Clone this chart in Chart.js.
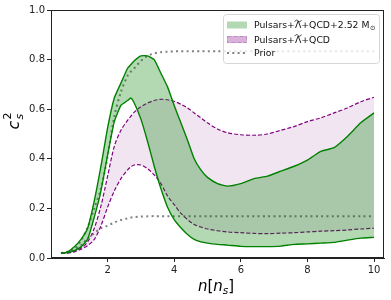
<!DOCTYPE html>
<html>
<head>
<meta charset="utf-8">
<script src="https://cdn.jsdelivr.net/npm/chart.js@4.4.1/dist/chart.umd.min.js"></script>
<style>
  html, body { margin: 0; padding: 0; background: #fff; }
  #wrap { width: 391px; height: 300px; }
</style>
</head>
<body>
<div id="wrap"><canvas id="bieudo" width="391" height="300"></canvas></div>
<script>
// density grid n [n_s]
const nDensity = [0.6, 0.8, 1.0, 1.2, 1.4, 1.6, 1.8, 2.0, 2.2, 2.4, 2.6, 2.7, 2.8, 3.0, 3.2, 3.4, 3.6, 3.8, 4.0,
  4.2, 4.4, 4.6, 4.8, 5.0, 5.3, 5.6, 6.0, 6.4, 6.8, 7.2, 7.6, 8.0, 8.4, 8.8, 9.2, 9.6, 10.0];

// Pulsars+Lambda+QCD+2.52 Msun band
const greenUpper = [0.02, 0.025, 0.045, 0.075, 0.12, 0.23, 0.37, 0.525, 0.645, 0.705, 0.765, 0.78, 0.795, 0.815, 0.815,
  0.80, 0.745, 0.69, 0.615, 0.545, 0.475, 0.40, 0.355, 0.325, 0.30, 0.29, 0.30, 0.32, 0.33, 0.35, 0.37, 0.395,
  0.43, 0.445, 0.49, 0.545, 0.585];
const greenLower = [0.02, 0.022, 0.03, 0.045, 0.075, 0.165, 0.27, 0.415, 0.55, 0.615, 0.635, 0.645, 0.625, 0.56, 0.47,
  0.37, 0.28, 0.205, 0.155, 0.122, 0.095, 0.075, 0.065, 0.06, 0.055, 0.052, 0.047, 0.046, 0.046, 0.048, 0.055,
  0.057, 0.06, 0.063, 0.072, 0.08, 0.083];

// Pulsars+Lambda+QCD band
const purpleUpper = [0.02, 0.022, 0.028, 0.04, 0.065, 0.12, 0.21, 0.33, 0.45, 0.515, 0.555, 0.572, 0.588, 0.61, 0.625,
  0.635, 0.64, 0.638, 0.632, 0.62, 0.605, 0.585, 0.565, 0.545, 0.52, 0.505, 0.497, 0.495, 0.50, 0.515, 0.53,
  0.55, 0.565, 0.585, 0.605, 0.63, 0.648];
const purpleLower = [0.02, 0.02, 0.025, 0.035, 0.05, 0.075, 0.13, 0.205, 0.27, 0.32, 0.355, 0.368, 0.375, 0.375, 0.36,
  0.335, 0.30, 0.25, 0.215, 0.18, 0.155, 0.135, 0.125, 0.117, 0.11, 0.105, 0.102, 0.099, 0.098, 0.10, 0.102,
  0.105, 0.108, 0.11, 0.113, 0.117, 0.12];

// prior band
const priorUpper = [0.02, 0.025, 0.035, 0.07, 0.125, 0.2, 0.28, 0.41, 0.57, 0.67, 0.735, 0.752, 0.765, 0.795, 0.815,
  0.825, 0.83, 0.832, 0.833, 0.834, 0.834, 0.834, 0.834, 0.834, 0.834, 0.834, 0.834, 0.834, 0.834, 0.834, 0.834,
  0.834, 0.834, 0.834, 0.834, 0.834, 0.834];
const priorLower = [0.02, 0.025, 0.035, 0.05, 0.08, 0.1, 0.12, 0.13, 0.143, 0.153, 0.16, 0.163, 0.165, 0.167, 0.168,
  0.169, 0.168, 0.168, 0.168, 0.168, 0.168, 0.168, 0.168, 0.168, 0.168, 0.168, 0.168, 0.168, 0.168, 0.168, 0.168,
  0.168, 0.168, 0.168, 0.168, 0.168, 0.168];

const xTicks = [2, 4, 6, 8, 10];
const yTicks = [0, 0.2, 0.4, 0.6, 0.8, 1.0];
const legendLabels = ['Pulsars+\u039B\u0303+QCD+2.52 M', 'Pulsars+\u039B\u0303+QCD', 'Prior'];
const legendSubs = ['\u2299', '', ''];

const toPts = ys => nDensity.map((x, i) => ({ x: x, y: ys[i] }));

// draws a label, putting a wide tilde over the char before each U+0303
function drawTildeText(ctx, text, x, y) {
  const parts = text.split('\u0303');
  let xx = x;
  parts.forEach((p, i) => {
    ctx.fillText(p, xx, y);
    const w = ctx.measureText(p).width;
    if (i < parts.length - 1) {
      const wl = ctx.measureText(p.slice(-1)).width;
      const cx = xx + w - wl / 2;
      const ty = y - 7.5;
      ctx.save();
      ctx.strokeStyle = ctx.fillStyle;
      ctx.lineWidth = 0.8;
      ctx.beginPath();
      ctx.moveTo(cx - 3.3, ty + 0.8);
      ctx.bezierCurveTo(cx - 2, ty - 1.8, cx - 0.8, ty - 0.6, cx, ty);
      ctx.bezierCurveTo(cx + 0.8, ty + 0.6, cx + 2, ty + 1.8, cx + 3.3, ty - 0.8);
      ctx.stroke();
      ctx.restore();
    }
    xx += w;
  });
  return xx - x;
}

// frame, axis titles and legend box drawn like matplotlib
const extras = {
  id: 'extras',
  afterDraw(chart) {
    const ctx = chart.ctx;
    const a = chart.chartArea;
    ctx.save();
    ctx.strokeStyle = '#222';
    ctx.lineWidth = 1;
    ctx.strokeRect(a.left + 0.5, a.top + 0.5, a.right - a.left - 1, a.bottom - a.top - 1);

    // y title  c_s^2
    ctx.save();
    ctx.translate(14, 121);
    ctx.rotate(-Math.PI / 2);
    ctx.fillStyle = '#000';
    ctx.textBaseline = 'alphabetic';
    ctx.font = 'italic 16px "DejaVu Sans"';
    const wc = ctx.measureText('c').width;
    ctx.font = '11px "DejaVu Sans"';
    const w2 = ctx.measureText('2').width;
    const x0 = -(wc + w2 + 1) / 2;
    ctx.font = 'italic 16px "DejaVu Sans"';
    ctx.fillText('c', x0, 5);
    ctx.font = '11px "DejaVu Sans"';
    ctx.fillText('2', x0 + wc + 1, -3);
    ctx.font = 'italic 11px "DejaVu Sans"';
    ctx.fillText('s', x0 + wc + 1, 9);
    ctx.restore();

    // x title  n[n_s]
    ctx.fillStyle = '#000';
    const parts = [
      ['n', 'italic 15px "DejaVu Sans"', 0],
      ['[', '15px "DejaVu Sans"', 0],
      ['n', 'italic 15px "DejaVu Sans"', 0],
      ['s', 'italic 10.5px "DejaVu Sans"', 3],
      [']', '15px "DejaVu Sans"', 0]
    ];
    let tw = 0;
    parts.forEach(p => { ctx.font = p[1]; tw += ctx.measureText(p[0]).width; });
    let xx = 216 - tw / 2;
    parts.forEach(p => {
      ctx.font = p[1];
      ctx.fillText(p[0], xx, 291 + p[2]);
      xx += ctx.measureText(p[0]).width;
    });

    // legend
    const bx = 223.5, by = 14.5, bw = 156, bh = 49;
    ctx.beginPath();
    ctx.roundRect(bx, by, bw, bh, 3);
    ctx.fillStyle = 'rgba(255,255,255,0.8)';
    ctx.fill();
    ctx.strokeStyle = '#d6d6d6';
    ctx.lineWidth = 1;
    ctx.stroke();

    const rows = [25, 39.5, 53];
    // green patch
    ctx.fillStyle = 'rgba(0,128,0,0.3)';
    ctx.fillRect(227, rows[0] - 3.5, 20, 7);
    // purple patch
    ctx.fillStyle = 'rgba(128,0,128,0.3)';
    ctx.fillRect(227, rows[1] - 3.5, 20, 7);
    ctx.setLineDash([4, 2]);
    ctx.strokeStyle = 'rgba(180,110,190,0.6)';
    ctx.strokeRect(227.5, rows[1] - 3, 19, 6);
    // prior line
    ctx.setLineDash([2, 3.3]);
    ctx.strokeStyle = '#808080';
    ctx.lineWidth = 2;
    ctx.beginPath();
    ctx.moveTo(227, rows[2]);
    ctx.lineTo(247, rows[2]);
    ctx.stroke();
    ctx.setLineDash([]);

    ctx.fillStyle = '#111';
    ctx.textBaseline = 'alphabetic';
    legendLabels.forEach((lab, i) => {
      ctx.font = '9.3px "DejaVu Sans"';
      const w = drawTildeText(ctx, lab, 254, rows[i] + 3.4);
      if (legendSubs[i]) {
        ctx.font = '6.5px "DejaVu Sans"';
        ctx.fillText(legendSubs[i], 254 + w + 0.5, rows[i] + 5);
      }
    });
    ctx.restore();
  }
};

const ctxLine = document.getElementById('bieudo').getContext('2d');
new Chart(ctxLine, {
  type: 'line',
  data: {
    datasets: [
      {
        label: 'greenUpper',
        data: toPts(greenUpper),
        borderColor: '#008000',
        borderWidth: 1.4,
        backgroundColor: 'rgba(0,128,0,0.3)',
        fill: '+1',
        tension: 0.15
      },
      {
        label: 'greenLower',
        data: toPts(greenLower),
        borderColor: '#008000',
        borderWidth: 1.4,
        fill: false,
        tension: 0.15
      },
      {
        label: 'purpleUpper',
        data: toPts(purpleUpper),
        borderColor: '#800080',
        borderWidth: 1.2,
        borderDash: [4, 2],
        backgroundColor: 'rgba(128,0,128,0.1)',
        fill: '+1',
        tension: 0.3
      },
      {
        label: 'purpleLower',
        data: toPts(purpleLower),
        borderColor: '#800080',
        borderWidth: 1.2,
        borderDash: [4, 2],
        fill: false,
        tension: 0.3
      },
      {
        label: 'priorUpper',
        data: toPts(priorUpper),
        borderColor: '#808080',
        borderWidth: 2,
        borderDash: [2, 3.3],
        fill: false,
        tension: 0.3
      },
      {
        label: 'priorLower',
        data: toPts(priorLower),
        borderColor: '#808080',
        borderWidth: 2,
        borderDash: [2, 3.3],
        fill: false,
        tension: 0.3
      }
    ]
  },
  options: {
    responsive: false,
    devicePixelRatio: 1,
    animation: false,
    layout: { padding: { top: 10, right: 7, left: 0, bottom: 0 } },
    elements: { point: { radius: 0 } },
    plugins: { legend: { display: false }, tooltip: { enabled: false } },
    scales: {
      x: {
        type: 'linear',
        min: 0.3,
        max: 10.3,
        afterBuildTicks: s => { s.ticks = xTicks.map(v => ({ value: v })); },
        afterFit: s => { s.height = 42; },
        grid: { drawOnChartArea: false, tickLength: 4, color: '#222' },
        border: { color: '#222' },
        ticks: {
          color: '#222',
          padding: 2,
          maxRotation: 0,
          font: { family: 'DejaVu Sans', size: 10 },
          callback: v => String(v)
        }
      },
      y: {
        type: 'linear',
        min: 0,
        max: 1,
        afterBuildTicks: s => { s.ticks = yTicks.map(v => ({ value: v })); },
        afterFit: s => { s.width = 51; },
        grid: { drawOnChartArea: false, tickLength: 4, color: '#222' },
        border: { color: '#222' },
        ticks: {
          color: '#222',
          padding: 2,
          font: { family: 'DejaVu Sans', size: 10 },
          callback: v => v.toFixed(1)
        }
      }
    }
  },
  plugins: [extras]
});
</script>
</body>
</html>
